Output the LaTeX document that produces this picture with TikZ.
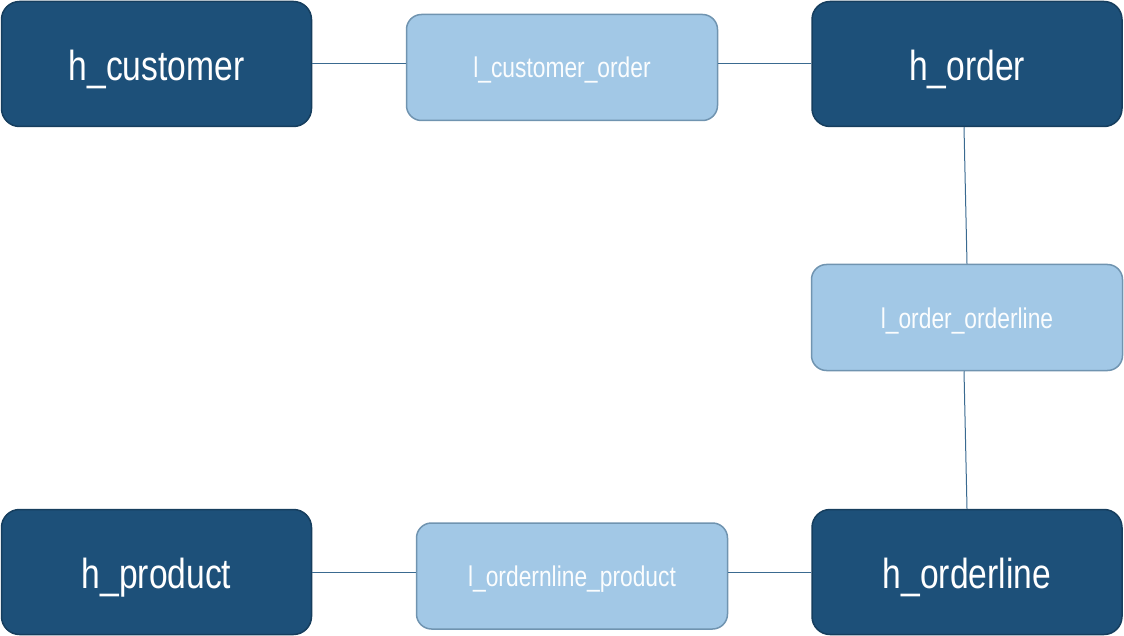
\documentclass[tikz,border=0pt]{standalone}
\usepackage{fontspec}
\setmainfont[FakeStretch=0.8]{Liberation Sans}
\definecolor{hubfill}{HTML}{1D5079}
\definecolor{hubdraw}{HTML}{163E5E}
\definecolor{linkfill}{HTML}{A2C8E6}
\definecolor{linkdraw}{HTML}{7094B0}
\definecolor{conn}{HTML}{3A6A90}
\begin{document}
\begin{tikzpicture}[x=1pt,y=-1pt,
  hub/.style={draw=hubdraw,line width=1.5pt,fill=hubfill,rounded corners=18pt,
    minimum width=310pt,minimum height=125pt,inner sep=0pt,text=white,
    text height=42pt,text depth=9pt,font=\fontsize{42}{46}\selectfont},
  link/.style={draw=linkdraw,line width=1.5pt,fill=linkfill,rounded corners=15pt,
    minimum width=311pt,minimum height=106pt,inner sep=0pt,text=white!96!linkfill,
    text height=27pt,text depth=6pt,font=\fontsize{28.5}{31}\selectfont},
  conn/.style={draw=conn,line width=1pt}]
\useasboundingbox (0,0) rectangle (1124,636);
\node[hub] (hc) at (156.5,64) {h\_customer};
\node[hub] (ho) at (967,64) {h\_order};
\node[hub] (hp) at (156.5,572) {h\_product};
\node[hub] (hl) at (967,572) {h\_orderline};
\node[link] (lco) at (562,67.5) {l\_customer\_order};
\node[link] (loo) at (967,317.5) {l\_order\_orderline};
\node[link] (lop) at (572,576) {l\_ordernline\_product};
\draw[conn] (hc.east) -- (hc.east -| lco.west);
\draw[conn] (lco.east |- ho.west) -- (ho.west);
\draw[conn] ([xshift=-3pt]ho.south) -- (loo.north);
\draw[conn] ([xshift=-3pt]loo.south) -- (hl.north);
\draw[conn] (hp.east) -- (hp.east -| lop.west);
\draw[conn] (lop.east |- hl.west) -- (hl.west);
\end{tikzpicture}
\end{document}
